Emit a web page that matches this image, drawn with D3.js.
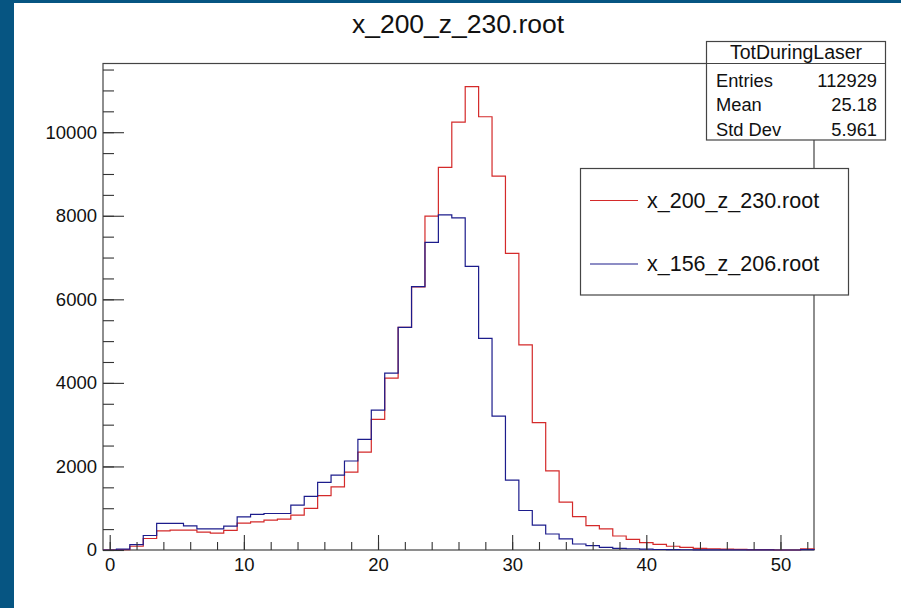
<!DOCTYPE html>
<html>
<head>
<meta charset="utf-8">
<script src="https://cdn.jsdelivr.net/npm/d3@7"></script>
<style>
  html, body { margin: 0; padding: 0; background: #065582; }
  svg { display: block; }
  text { font-family: "Liberation Sans", Arial, Helvetica, sans-serif; fill: #111; }
</style>
</head>
<body>
<svg id="chart" width="901" height="608"></svg>
<script>
// ---- data ----
const chartTitle = "x_200_z_230.root";
const binCenters = d3.range(0, 53);
const redName = "x_200_z_230.root";
const redValues = [0,10,90,275,460,475,475,430,405,470,
  645,675,715,740,835,995,1300,1510,1865,2345,
  3125,4115,5330,6300,7990,9160,10240,11090,10370,8950,
  7100,4910,3050,1895,1145,800,585,505,335,255,
  175,135,90,65,40,30,20,15,10,8,
  0,0,30];
const blueName = "x_156_z_206.root";
const blueValues = [0,20,130,347,635,635,579,507,507,571,
  795,851,874,874,1074,1282,1618,1790,2130,2650,
  3350,4233,5328,6302,7365,8020,7950,6790,5065,3205,
  1672,945,595,383,268,144,104,64,40,30,
  20,12,8,6,5,4,3,2,2,1,
  0,0,10];
const xMajorTicks = [0,10,20,30,40,50];
const xMinorTicks = d3.range(0, 53, 2);
const yMajorTicks = [0,2000,4000,6000,8000,10000];
const yMinorTicks = d3.range(0, 11600, 500);
const statsTitle = "TotDuringLaser";
const statsLabels = ["Entries","Mean","Std Dev"];
const statsValues = ["112929","25.18","5.961"];

// ---- layout ----
const svg = d3.select("#chart");
const W = 901, H = 608;
const pLeft = 103, pRight = 814, pTop = 63.5, pBottom = 550;
const binWidth = 1;

svg.append("rect").attr("x", 14).attr("y", 3).attr("width", W - 14).attr("height", H - 3).attr("fill", "#ffffff");

const x = d3.scaleLinear().domain([-0.5, 52.5]).range([pLeft, pRight]);
const yMax = 1.05 * d3.max(redValues.concat(blueValues));
const y = d3.scaleLinear().domain([0, yMax]).range([pBottom, pTop]);

// frame
svg.append("rect").attr("x", pLeft).attr("y", pTop).attr("width", pRight - pLeft).attr("height", pBottom - pTop)
  .attr("fill", "none").attr("stroke", "#444").attr("stroke-width", 1.2);

function stepPath(vals) {
  const pts = [[x(binCenters[0] - binWidth/2), y(0)]];
  vals.forEach((v, i) => {
    pts.push([x(binCenters[i] - binWidth/2), y(v)]);
    pts.push([x(binCenters[i] + binWidth/2), y(v)]);
  });
  pts.push([x(binCenters[binCenters.length-1] + binWidth/2), y(0)]);
  return d3.line()(pts);
}

svg.append("path").attr("d", stepPath(redValues)).attr("fill", "none")
  .attr("stroke", "#d42a2a").attr("stroke-width", 1.2);
svg.append("path").attr("d", stepPath(blueValues)).attr("fill", "none")
  .attr("stroke", "#1c1c8c").attr("stroke-width", 1.2);

// axes
const gx = svg.append("g").attr("transform", `translate(0,${pBottom})`);
gx.call(d3.axisBottom(x).tickValues(xMinorTicks).tickSize(-8).tickFormat(""));
gx.select(".domain").remove();
const gx2 = svg.append("g").attr("transform", `translate(0,${pBottom})`);
gx2.call(d3.axisBottom(x).tickValues(xMajorTicks).tickSize(-15).tickPadding(8).tickFormat(d3.format("d")));
gx2.select(".domain").remove();

const gy = svg.append("g").attr("transform", `translate(${pLeft},0)`);
gy.call(d3.axisLeft(y).tickValues(yMinorTicks).tickSize(-11).tickFormat(""));
gy.select(".domain").remove();
const gy2 = svg.append("g").attr("transform", `translate(${pLeft},0)`);
gy2.call(d3.axisLeft(y).tickValues(yMajorTicks).tickSize(-21).tickPadding(6).tickFormat(d3.format("d")));
gy2.select(".domain").remove();

svg.selectAll(".tick line").attr("stroke", "#333").attr("stroke-width", 1.1);
svg.selectAll(".tick text").attr("font-size", 18.5).attr("font-family", "Liberation Sans, Arial, sans-serif").attr("fill", "#111");

// title
svg.append("text").attr("x", 458).attr("y", 33).attr("text-anchor", "middle")
  .attr("font-size", 26.5).text(chartTitle);

// stats box
const sb = {x: 706.5, y: 41.5, w: 179, h: 98.5};
svg.append("rect").attr("x", sb.x).attr("y", sb.y).attr("width", sb.w).attr("height", sb.h)
  .attr("fill", "#fff").attr("stroke", "#444").attr("stroke-width", 1.2);
svg.append("line").attr("x1", sb.x).attr("x2", sb.x + sb.w).attr("y1", 63.5).attr("y2", 63.5)
  .attr("stroke", "#444").attr("stroke-width", 1.2);
svg.append("text").attr("x", sb.x + sb.w/2).attr("y", 59).attr("text-anchor", "middle")
  .attr("font-size", 19.5).text(statsTitle);
statsLabels.forEach((lab, i) => {
  const by = 86.5 + i * 24.7;
  svg.append("text").attr("x", 716).attr("y", by).attr("font-size", 18.3).text(lab);
  svg.append("text").attr("x", 877).attr("y", by).attr("text-anchor", "end").attr("font-size", 18.3).text(statsValues[i]);
});

// legend
svg.append("rect").attr("x", 580.5).attr("y", 168.5).attr("width", 268).attr("height", 126.5)
  .attr("fill", "#fff").attr("stroke", "#444").attr("stroke-width", 1.2);
const legendItems = [{name: redName, color: "#d42a2a", yy: 200.5}, {name: blueName, color: "#1c1c8c", yy: 264}];
legendItems.forEach(it => {
  svg.append("line").attr("x1", 590).attr("x2", 638).attr("y1", it.yy).attr("y2", it.yy)
    .attr("stroke", it.color).attr("stroke-width", 1.2);
  svg.append("text").attr("x", 647).attr("y", it.yy + 7).attr("font-size", 21.5).text(it.name);
});
</script>
</body>
</html>
